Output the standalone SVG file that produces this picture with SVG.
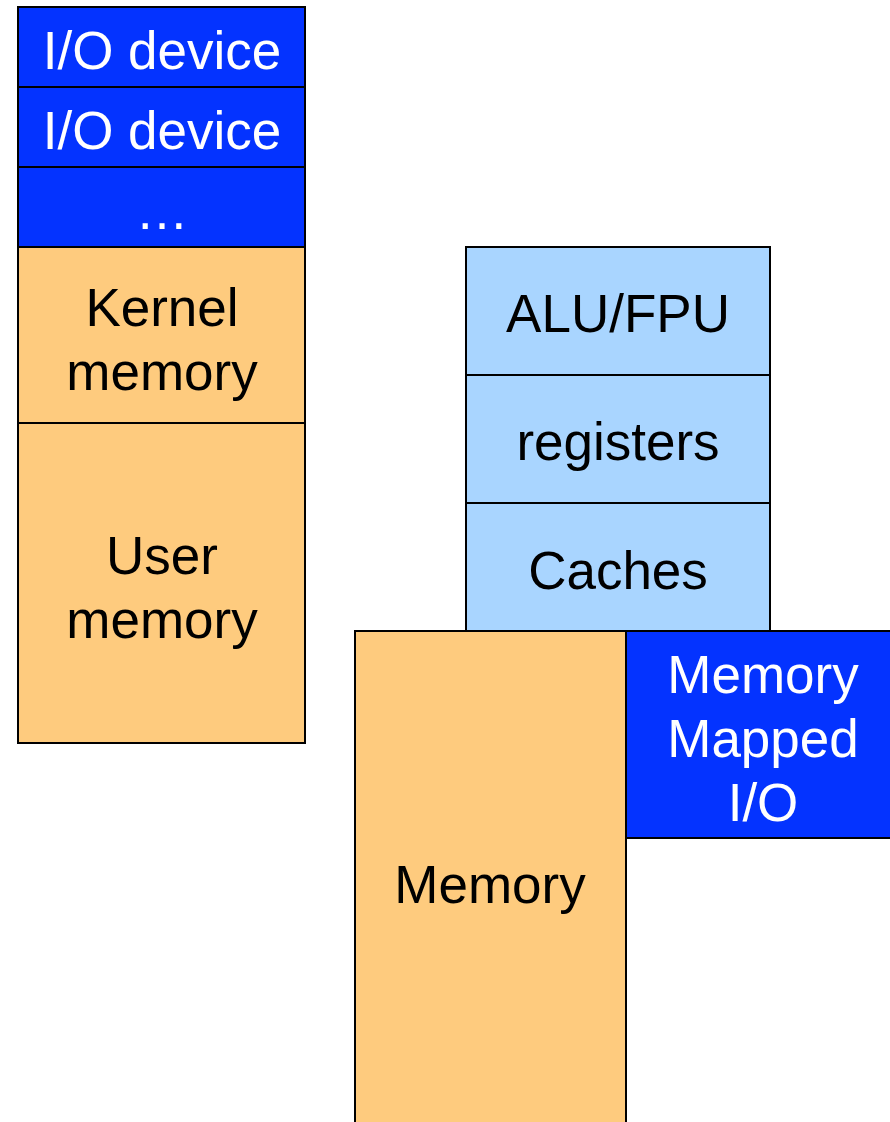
<svg xmlns="http://www.w3.org/2000/svg" width="890" height="1122" viewBox="0 0 890 1122">
  <style>
    .io { fill: #0433FF; stroke: #000; stroke-width: 2; }
    .mem { fill: #FECB7E; stroke: #000; stroke-width: 2; }
    .cpu { fill: #A9D5FF; stroke: #000; stroke-width: 2; }
    text { font-family: "Liberation Sans", Arial, sans-serif; font-size: 53px; text-anchor: middle; }
    .w { fill: #fff; }
    .b { fill: #000; }
  </style>
  <rect width="890" height="1122" fill="#fff"/>

  <!-- Address space stack (left) -->
  <g id="io-device-1">
    <rect class="io" x="18" y="7" width="287" height="80"/>
    <text class="w" x="162" y="69">I/O device</text>
  </g>
  <g id="io-device-2">
    <rect class="io" x="18" y="87" width="287" height="80"/>
    <text class="w" x="162" y="149">I/O device</text>
  </g>
  <g id="io-more">
    <rect class="io" x="18" y="167" width="287" height="80"/>
    <text class="w" x="162" y="229">…</text>
  </g>
  <g id="kernel-memory">
    <rect class="mem" x="18" y="247" width="287" height="176"/>
    <text class="b" x="162" y="326">Kernel</text>
    <text class="b" x="162" y="390">memory</text>
  </g>
  <g id="user-memory">
    <rect class="mem" x="18" y="423" width="287" height="320"/>
    <text class="b" x="162" y="574">User</text>
    <text class="b" x="162" y="638">memory</text>
  </g>

  <!-- CPU stack (right) -->
  <g id="alu-fpu">
    <rect class="cpu" x="466" y="247" width="304" height="128"/>
    <text class="b" x="618" y="332">ALU/FPU</text>
  </g>
  <g id="registers">
    <rect class="cpu" x="466" y="375" width="304" height="128"/>
    <text class="b" x="618" y="460">registers</text>
  </g>
  <g id="caches">
    <rect class="cpu" x="466" y="503" width="304" height="128"/>
    <text class="b" x="618" y="589">Caches</text>
  </g>

  <!-- Memory and memory-mapped I/O -->
  <g id="memory">
    <rect class="mem" x="355" y="631" width="271" height="500"/>
    <text class="b" x="490" y="903">Memory</text>
  </g>
  <g id="mmio">
    <rect class="io" x="626" y="631" width="274" height="207"/>
    <text class="w" x="763" y="693">Memory</text>
    <text class="w" x="763" y="757">Mapped</text>
    <text class="w" x="763" y="821">I/O</text>
  </g>

  <g id="connectors"/>
</svg>
